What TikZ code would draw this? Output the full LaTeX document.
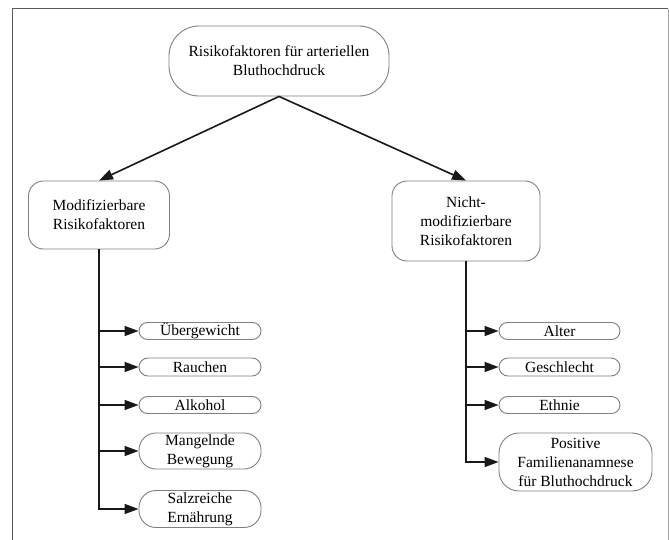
\documentclass[tikz,border=0pt]{standalone}
\usepackage{fontspec}
\setmainfont{Liberation Serif}
\usetikzlibrary{arrows.meta}
\begin{document}
\begin{tikzpicture}[x=1pt,y=-1pt,
  box/.style={draw=black!50,line width=0.9pt,align=center,inner sep=0pt,
    font=\fontsize{15.5}{19}\selectfont,text=black},
  arr/.style={line width=1.6pt,draw=black!90,-{Triangle[length=14pt,width=10pt]}},
]
\useasboundingbox (0,0) rectangle (669,540);
\fill[white] (0,0) rectangle (669,540);
\draw[black!65,line width=1pt] (12,540) -- (12,9) -- (668,9);
\draw[black!35,line width=1pt] (668,9) -- (668,540);

\node[box,minimum width=220pt,minimum height=70pt,rounded corners=30pt] (top) at (279,61)
  {Risikofaktoren für arteriellen\\Bluthochdruck};
\node[box,minimum width=141pt,minimum height=68pt,rounded corners=15pt] (lm) at (99,215)
  {Modifizierbare\\Risikofaktoren};
\node[box,minimum width=148pt,minimum height=80pt,rounded corners=15pt] (rm) at (466,221)
  {Nicht-\\modifizierbare\\Risikofaktoren};

\node[box,minimum width=122pt,minimum height=17pt,rounded corners=8.5pt] (l1) at (200,331) {Übergewicht};
\node[box,minimum width=122pt,minimum height=18pt,rounded corners=9pt] (l2) at (200,367) {Rauchen};
\node[box,minimum width=122pt,minimum height=17pt,rounded corners=8.5pt] (l3) at (200,405) {Alkohol};
\node[box,minimum width=122pt,minimum height=36pt,rounded corners=17pt] (l4) at (200,451) {Mangelnde\\Bewegung};
\node[box,minimum width=122pt,minimum height=37pt,rounded corners=17pt] (l5) at (200,509) {Salzreiche\\Ernährung};

\node[box,minimum width=121pt,minimum height=17pt,rounded corners=8.5pt] (r1) at (559.5,331) {Alter};
\node[box,minimum width=121pt,minimum height=18pt,rounded corners=9pt] (r2) at (559.5,367) {Geschlecht};
\node[box,minimum width=121pt,minimum height=17pt,rounded corners=8.5pt] (r3) at (559.5,405) {Ethnie};
\node[box,minimum width=153pt,minimum height=58pt,rounded corners=20pt] (r4) at (575.5,462) {Positive\\Familienanamnese\\für Bluthochdruck};

\draw[arr] (top.south) -- (lm.north);
\draw[arr] (top.south) -- (rm.north);

\foreach \n in {l1,l2,l3,l4,l5} \draw[arr] (lm.south) |- (\n.west);
\foreach \n in {r1,r2,r3,r4} \draw[arr] (rm.south) |- (\n.west);
\end{tikzpicture}
\end{document}
